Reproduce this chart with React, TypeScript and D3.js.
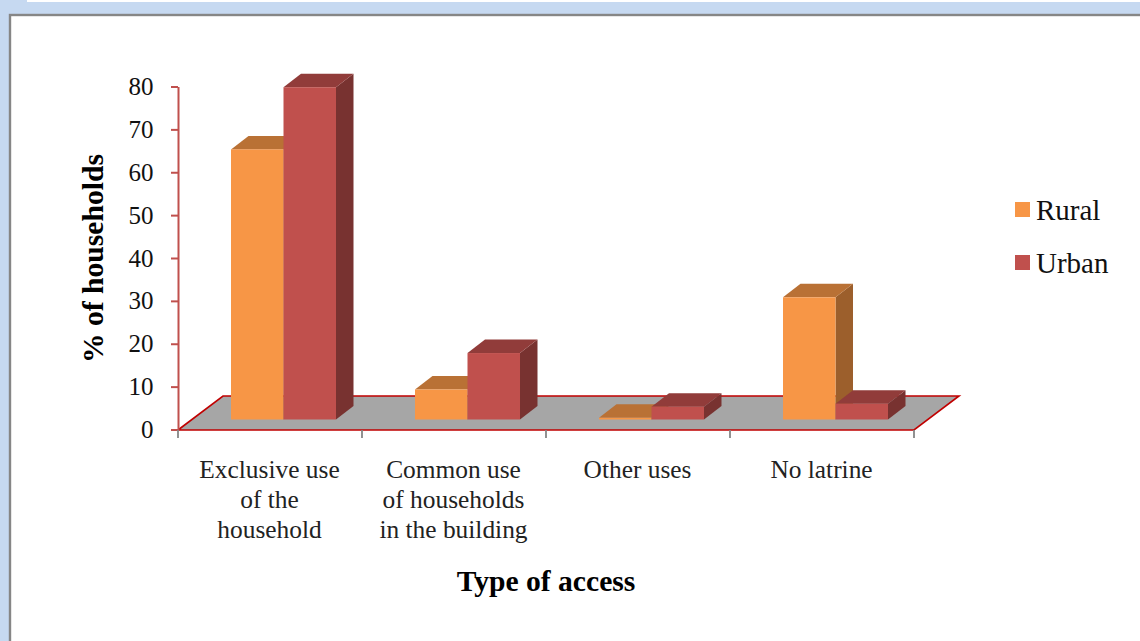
import React from "react";
import * as d3 from "d3";

const categories = ["Exclusive use", "Common use", "Other uses", "No latrine"];
const categoryLines = [
  ["Exclusive use", "of the", "household"],
  ["Common use", "of households", "in the building"],
  ["Other uses"],
  ["No latrine"],
];
const seriesNames = ["Rural", "Urban"];
const rural = [63, 7, 0.4, 28.5];
const urban = [77.5, 15.5, 3, 3.7];
const ticks = [0, 10, 20, 30, 40, 50, 60, 70, 80];
const xTitle = "Type of access";
const yTitle = "% of households";
const colors: Record<string, { front: string; top: string; side: string }> = {
  Rural: { front: "#F79646", top: "#B97135", side: "#9C5F2C" },
  Urban: { front: "#C0504D", top: "#913C3A", side: "#783230" },
};

const W = 1140, H = 641;
const FONT = "'Liberation Serif', serif";

export default function App() {
  const axisY = d3.scaleLinear().domain([0, 80]).range([430, 87]);
  const x0 = d3.scaleBand().domain(categories).range([178, 914]);
  const x1 = d3.scaleBand().domain(seriesNames).range([53, 158]);
  const barY = d3.scaleLinear().domain([0, 80]).range([419.5, 76.5]);
  const dx = 17.5, dy = 13.5;
  const floorDx = 45, floorDy = 34;
  const bars = seriesNames.flatMap((s, si) =>
    categories.map((c, ci) => ({ s, c, v: (si === 0 ? rural : urban)[ci], si })),
  );
  return (
    <svg width={W} height={H} style={{ position: "fixed", left: 0, top: 0 }} fontFamily={FONT}>
      <rect width={W} height={H} fill="#C6D9F1" />
      <rect x={27} y={0} width={W - 27} height={2} fill="#fff" />
      <rect x={10} y={15} width={W + 10} height={H + 10} fill="#fff" stroke="#868686" strokeWidth={2.4} />
      {/* floor */}
      <path
        d={`M178,${axisY(0)}L${178 + floorDx},${axisY(0) - floorDy}L${914 + floorDx},${axisY(0) - floorDy}L914,${axisY(0)}Z`}
        fill="#A6A6A6"
        stroke="#C00000"
        strokeWidth={1.6}
      />
      {/* value axis */}
      <line x1={178.5} x2={178.5} y1={axisY(80)} y2={axisY(0)} stroke="#C0504D" strokeWidth={2} />
      {ticks.map((t) => (
        <g key={t}>
          <line x1={171} x2={178} y1={axisY(t)} y2={axisY(t)} stroke="#C0504D" strokeWidth={2} />
          <text x={153.5} y={axisY(t) + 8} fontSize={25} textAnchor="end" fill="#111">{t}</text>
        </g>
      ))}
      {/* category ticks */}
      {[...categories.map((c) => x0(c)!), 914].map((x, i) => (
        <line key={i} x1={x} x2={x} y1={axisY(0)} y2={axisY(0) + 8} stroke="#868686" strokeWidth={1.8} />
      ))}
      {/* bars */}
      {categories.map((c) =>
        seriesNames.map((s) => {
          const b = bars.find((d) => d.c === c && d.s === s)!;
          const x = x0(c)! + x1(s)!;
          const w = x1.bandwidth();
          const y = barY(b.v), y0 = barY(0);
          const col = colors[s];
          return (
            <g key={c + s}>
              <path d={`M${x + w},${y}L${x + w + dx},${y - dy}L${x + w + dx},${y0 - dy}L${x + w},${y0}Z`} fill={col.side} />
              <path d={`M${x},${y}L${x + dx},${y - dy}L${x + w + dx},${y - dy}L${x + w},${y}Z`} fill={col.top} />
              <rect x={x} y={y} width={w} height={y0 - y} fill={col.front} />
            </g>
          );
        }),
      )}
      {/* category labels */}
      {categories.map((c, i) =>
        categoryLines[i].map((line, j) => (
          <text key={line} x={x0(c)! + x0.bandwidth() / 2 - 0.5} y={477.5 + j * 30} fontSize={25.4} textAnchor="middle" fill="#222">
            {line}
          </text>
        )),
      )}
      {/* titles */}
      <text x={546} y={591} fontSize={29.6} fontWeight="bold" textAnchor="middle" fill="#000">{xTitle}</text>
      <text transform="translate(103,258.5) rotate(-90)" fontSize={29.6} fontWeight="bold" textAnchor="middle" fill="#000">{yTitle}</text>
      {/* legend */}
      {seriesNames.map((s, i) => (
        <g key={s}>
          <rect x={1015} y={202 + i * 53} width={15} height={15} fill={colors[s].front} />
          <text x={1036} y={219.5 + i * 53} fontSize={29} fill="#111">{s}</text>
        </g>
      ))}
    </svg>
  );
}
